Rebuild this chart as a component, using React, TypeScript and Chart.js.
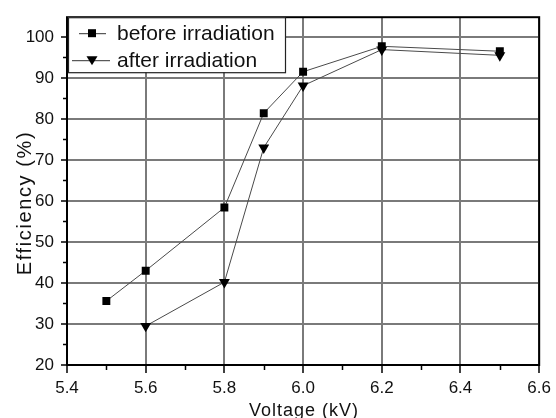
import React, { useEffect, useRef } from "react";
import { Chart, registerables } from "chart.js";

Chart.register(...registerables);

// ---- data ----
const voltageBefore = [5.5, 5.6, 5.8, 5.9, 6.0, 6.2, 6.5];
const efficiencyBefore = [35.6, 43.0, 58.4, 81.4, 91.5, 97.7, 96.5];
const voltageAfter = [5.6, 5.8, 5.9, 6.0, 6.2, 6.5];
const efficiencyAfter = [29.5, 40.2, 73.0, 88.1, 96.9, 95.5];
const seriesLabels = ["before irradiation", "after irradiation"];
const xMinorTicks = [5.5, 5.7, 5.9, 6.1, 6.3, 6.5];
const yMinorTicks = [25, 35, 45, 55, 65, 75, 85, 95];
const xTitle = "Voltage (kV)";
const yTitle = "Efficiency (%)";

const FONT = "'Liberation Sans', Arial, sans-serif";

function drawMarker(ctx: CanvasRenderingContext2D, style: string, x: number, y: number) {
  ctx.beginPath();
  if (style === "rect") {
    ctx.rect(x - 4, y - 4, 8, 8);
  } else {
    ctx.moveTo(x - 5.5, y - 4);
    ctx.lineTo(x + 5.5, y - 4);
    ctx.lineTo(x, y + 5);
    ctx.closePath();
  }
  ctx.fill();
}

const framePlugin = {
  id: "frameAndMinor",
  afterDatasetsDraw(chart: any) {
    const { ctx, chartArea: a, scales } = chart;
    ctx.save();
    ctx.strokeStyle = "#000";
    ctx.lineWidth = 1.5;
    ctx.beginPath();
    for (const v of xMinorTicks) {
      const px = Math.round(scales.x.getPixelForValue(v)) + 0.5;
      ctx.moveTo(px, a.bottom);
      ctx.lineTo(px, a.bottom + 5);
    }
    for (const v of yMinorTicks) {
      const py = Math.round(scales.y.getPixelForValue(v)) + 0.5;
      ctx.moveTo(a.left, py);
      ctx.lineTo(a.left - 4, py);
    }
    ctx.stroke();
    ctx.lineWidth = 2;
    ctx.strokeRect(a.left, a.top, a.right - a.left, a.bottom - a.top);

    // axis titles
    ctx.fillStyle = "#111";
    (ctx as any).letterSpacing = "1px";
    ctx.font = `18px ${FONT}`;
    ctx.textAlign = "center";
    ctx.textBaseline = "alphabetic";
    ctx.fillText(xTitle, (a.left + a.right) / 2 + 1, 416);
    ctx.save();
    ctx.translate(31, 203);
    ctx.rotate(-Math.PI / 2);
    (ctx as any).letterSpacing = "1.6px";
    ctx.font = `20px ${FONT}`;
    ctx.fillText(yTitle, 0, 0);
    ctx.restore();
    (ctx as any).letterSpacing = "0px";

    // legend box
    const x0 = a.left + 1;
    const y0 = a.top;
    ctx.fillStyle = "#fff";
    ctx.fillRect(x0, y0, 217, 55);
    ctx.lineWidth = 1.2;
    ctx.strokeStyle = "#222";
    ctx.strokeRect(x0 + 0.5, y0 + 0.5, 217, 55);
    const rows = [
      { y: y0 + 16, l: x0 + 11, r: x0 + 38, style: "rect" },
      { y: y0 + 43, l: x0 + 4, r: x0 + 42, style: "triangle" },
    ];
    chart.data.datasets.forEach((ds: any, i: number) => {
      const row = rows[i];
      ctx.strokeStyle = "#333";
      ctx.lineWidth = 1;
      ctx.beginPath();
      ctx.moveTo(row.l, row.y + 0.5);
      ctx.lineTo(row.r, row.y + 0.5);
      ctx.stroke();
      ctx.fillStyle = "#000";
      drawMarker(ctx, row.style, x0 + 24, row.y);
      ctx.fillStyle = "#111";
      ctx.font = `21px ${FONT}`;
      ctx.textBaseline = "middle";
      ctx.textAlign = "left";
      ctx.fillText(ds.label, x0 + 49, row.y + 1);
    });
    ctx.restore();
  },
};

export default function App() {
  const ref = useRef<HTMLCanvasElement>(null);
  useEffect(() => {
    if (!ref.current) return;
    const chart = new Chart(ref.current, {
      type: "scatter",
      data: {
        datasets: [
          {
            label: seriesLabels[0],
            data: voltageBefore.map((x, i) => ({ x, y: efficiencyBefore[i] })),
            showLine: true,
            borderColor: "#4a4a4a",
            borderWidth: 1,
            backgroundColor: "#000",
            pointBackgroundColor: "#000",
            pointBorderColor: "#000",
            pointStyle: "rect",
            pointRadius: 5.6,
            pointBorderWidth: 0,
          },
          {
            label: seriesLabels[1],
            data: voltageAfter.map((x, i) => ({ x, y: efficiencyAfter[i] })),
            showLine: true,
            borderColor: "#4a4a4a",
            borderWidth: 1,
            backgroundColor: "#000",
            pointBackgroundColor: "#000",
            pointBorderColor: "#000",
            pointStyle: "triangle",
            pointRotation: 180,
            pointRadius: 6.3,
            pointBorderWidth: 0,
          },
        ],
      },
      options: {
        responsive: false,
        animation: false,
        layout: { padding: { top: 13, right: 13, left: 0, bottom: 0 } },
        plugins: { legend: { display: false }, tooltip: { enabled: false } },
        scales: {
          x: {
            type: "linear",
            min: 5.4,
            max: 6.6,
            afterFit: (s: any) => {
              s.height = 53;
            },
            ticks: {
              stepSize: 0.2,
              color: "#111",
              padding: 5,
              maxRotation: 0,
              font: { family: FONT, size: 17 },
              callback: (v: any) => Number(v).toFixed(1),
            },
            grid: {
              color: "#7a7a7a",
              lineWidth: 2,
              tickColor: "#000",
              tickLength: 8,
              tickWidth: 1.5,
            },
            border: { display: false },
            title: { display: false },
          },
          y: {
            type: "linear",
            min: 20,
            max: 104.8,
            afterFit: (s: any) => {
              s.width = 67;
            },
            afterBuildTicks: (s: any) => {
              s.ticks = s.ticks.filter((t: any) => t.value <= 100.01);
            },
            ticks: {
              stepSize: 10,
              color: "#111",
              padding: 7,
              font: { family: FONT, size: 17 },
            },
            grid: {
              color: "#7a7a7a",
              lineWidth: 2,
              tickColor: "#000",
              tickLength: 6,
              tickWidth: 1.5,
            },
            border: { display: false },
            title: { display: false },
          },
        },
      },
      plugins: [framePlugin],
    } as any);
    return () => chart.destroy();
  }, []);
  return (
    <div style={{ position: "fixed", left: 0, top: 0, width: 556, height: 418, background: "#fff" }}>
      <canvas ref={ref} width={556} height={418} />
    </div>
  );
}
